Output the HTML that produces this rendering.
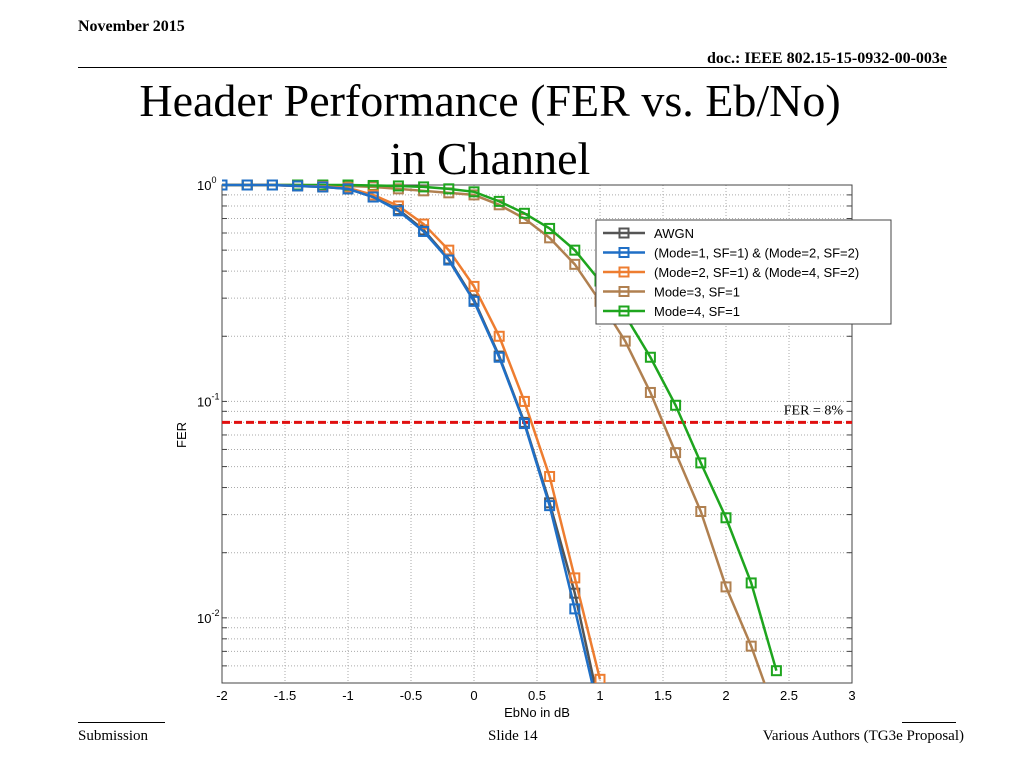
<!DOCTYPE html>
<html><head><meta charset="utf-8"><style>
body{margin:0;background:#fff;width:1024px;height:768px;overflow:hidden;position:relative;font-family:"Liberation Serif",serif}
.a{position:absolute;white-space:nowrap}
</style></head><body>
<div class="a" style="left:78px;top:18px;font-size:16px;font-weight:bold">November 2015</div>
<div class="a" style="right:77px;top:50px;font-size:16px;font-weight:bold">doc.: IEEE 802.15-15-0932-00-003e</div>
<div class="a" style="left:78px;top:67px;width:869px;height:1px;background:#000"></div>
<div class="a" style="left:0;width:980px;top:72px;text-align:center;font-size:46px;line-height:58px">Header Performance (FER vs. Eb/No)<br>in Channel</div>
<svg class="a" style="left:0;top:0" width="1024" height="768" id="chart"></svg>
<div class="a" style="left:78px;top:722px;width:87px;height:1px;background:#000"></div>
<div class="a" style="left:902px;top:722px;width:54px;height:1px;background:#000"></div>
<div class="a" style="left:78px;top:728px;font-size:15px">Submission</div>
<div class="a" style="left:488px;top:728px;font-size:15px">Slide 14</div>
<div class="a" style="right:60px;top:728px;font-size:15px">Various Authors (TG3e Proposal)</div>
<script>
const xVals=[-2,-1.8,-1.6,-1.4,-1.2,-1,-0.8,-0.6,-0.4,-0.2,0,0.2,0.4,0.6,0.8,1,1.2,1.4,1.6,1.8,2,2.2,2.4];
const awgn=[1,1,1,0.99,0.98,0.96,0.88,0.77,0.62,0.455,0.295,0.162,0.08,0.034,0.013,0.0038];
const mode1=[1,1,1,0.99,0.98,0.96,0.88,0.76,0.61,0.45,0.29,0.16,0.079,0.033,0.011,0.0035];
const mode2=[1,1,1,0.99,0.985,0.97,0.9,0.8,0.66,0.5,0.34,0.2,0.1,0.045,0.0153,0.0052];
const mode3=[1,1,1,1,0.995,0.99,0.98,0.96,0.94,0.92,0.9,0.81,0.7,0.57,0.43,0.29,0.19,0.11,0.058,0.031,0.0139,0.0074,0.0035];
const mode4=[1,1,1,1,1,1,0.995,0.99,0.98,0.96,0.93,0.84,0.74,0.63,0.5,0.36,0.25,0.16,0.096,0.052,0.029,0.0145,0.0057];
const seriesNames=["AWGN","(Mode=1, SF=1) & (Mode=2, SF=2)","(Mode=2, SF=1) & (Mode=4, SF=2)","Mode=3, SF=1","Mode=4, SF=1"];
const seriesColors=["#555555","#1f6fc6","#ee7d30","#b08050","#1ea51e"];
const xTicks=[-2,-1.5,-1,-0.5,0,0.5,1,1.5,2,2.5,3];
const yDecades=[0,-1,-2];
const ferTarget=0.08;
const L=222,R=852,T=185,B=683,X0=-2,X1=3,YMIN=Math.log10(0.005);
const sx=v=>L+(v-X0)/(X1-X0)*(R-L);
const sy=v=>T+(0-Math.log10(v))/(0-YMIN)*(B-T);
const svg=document.getElementById('chart');const NS='http://www.w3.org/2000/svg';
function mk(t,a,p){const e=document.createElementNS(NS,t);for(const k in a)e.setAttribute(k,a[k]);(p||svg).appendChild(e);return e;}
// grid
for(const d of [0,-1,-2,-3]){for(let m=1;m<10;m++){const v=m*Math.pow(10,d);if(v<0.005||v>1)continue;const y=sy(v);
const g=mk('line',{x1:L,x2:R,y1:y,y2:y,stroke:'#aaa','stroke-width':1,'stroke-dasharray':'1,2'});


mk('line',{x1:L,x2:L+5,y1:y,y2:y,stroke:'#444'});mk('line',{x1:R-5,x2:R,y1:y,y2:y,stroke:'#444'});}}
xTicks.forEach(t=>{const x=sx(t);
const g=mk('line',{x1:x,x2:x,y1:T,y2:B,stroke:'#aaa','stroke-width':1,'stroke-dasharray':'1,2'});


const tx=mk('text',{x:x,y:B+17,'text-anchor':'middle','font-size':13,'font-family':'Liberation Sans, sans-serif'});tx.textContent=String(t);

});
yDecades.forEach(d=>{const y=sy(Math.pow(10,d));
const tx=mk('text',{x:197,y:y+5,'font-size':13,'font-family':'Liberation Sans, sans-serif'});tx.innerHTML='10<tspan dy="-7" font-size="9">'+d+'</tspan>';

});
const fr=mk('rect',{x:L,y:T,width:R-L,height:B-T,fill:'none',stroke:'#444'});


const xl=mk('text',{x:(L+R)/2,y:717,'text-anchor':'middle','font-size':13,'font-family':'Liberation Sans, sans-serif'});xl.textContent='EbNo in dB';


const yl=mk('text',{x:0,y:0,transform:'translate(186,435) rotate(-90)','text-anchor':'middle','font-size':13,'font-family':'Liberation Sans, sans-serif'});yl.textContent='FER';


// target line
const ty=sy(ferTarget);
const tl=mk('line',{x1:L,x2:R,y1:ty,y2:ty,stroke:'#e01010','stroke-width':3,'stroke-dasharray':'8,4'});


const tt=mk('text',{x:843,y:ty-8,'text-anchor':'end','font-size':14,'font-family':'Liberation Serif, serif'});tt.textContent='FER = 8%';


// series
const clip=mk('clipPath',{id:'c'});mk('rect',{x:L,y:T-6,width:R-L+6,height:B-T+6},clip);
const all=[awgn,mode1,mode2,mode3,mode4];
[0,3,4,2,1].forEach(i=>{const vals=all[i],col=seriesColors[i];const g=mk('g',{'clip-path':'url(#c)'});


const pts=vals.map((v,j)=>sx(xVals[j])+','+sy(v)).join(' ');
mk('polyline',{points:pts,fill:'none',stroke:col,'stroke-width':2.5},g);
vals.forEach((v,j)=>{const x=sx(xVals[j]),y=sy(v);if(y>B+2)return;
const m=mk('rect',{x:x-4.5,y:y-4.5,width:9,height:9,fill:'none',stroke:col,'stroke-width':2},g);

});});
// legend
const lg=mk('g',{});


mk('rect',{x:596,y:220,width:295,height:104,fill:'#fff',stroke:'#444'},lg);
seriesNames.forEach((n,i)=>{const y=233+i*19.5,c=seriesColors[i];
const e=mk('g',{},lg);


mk('line',{x1:603,x2:645,y1:y,y2:y,stroke:c,'stroke-width':2.5},e);
mk('rect',{x:619.5,y:y-4.5,width:9,height:9,fill:'none',stroke:c,'stroke-width':2},e);
const t=mk('text',{x:654,y:y+5,'font-size':13,'font-family':'Liberation Sans, sans-serif'},e);t.textContent=n;});
</script>
</body></html>
